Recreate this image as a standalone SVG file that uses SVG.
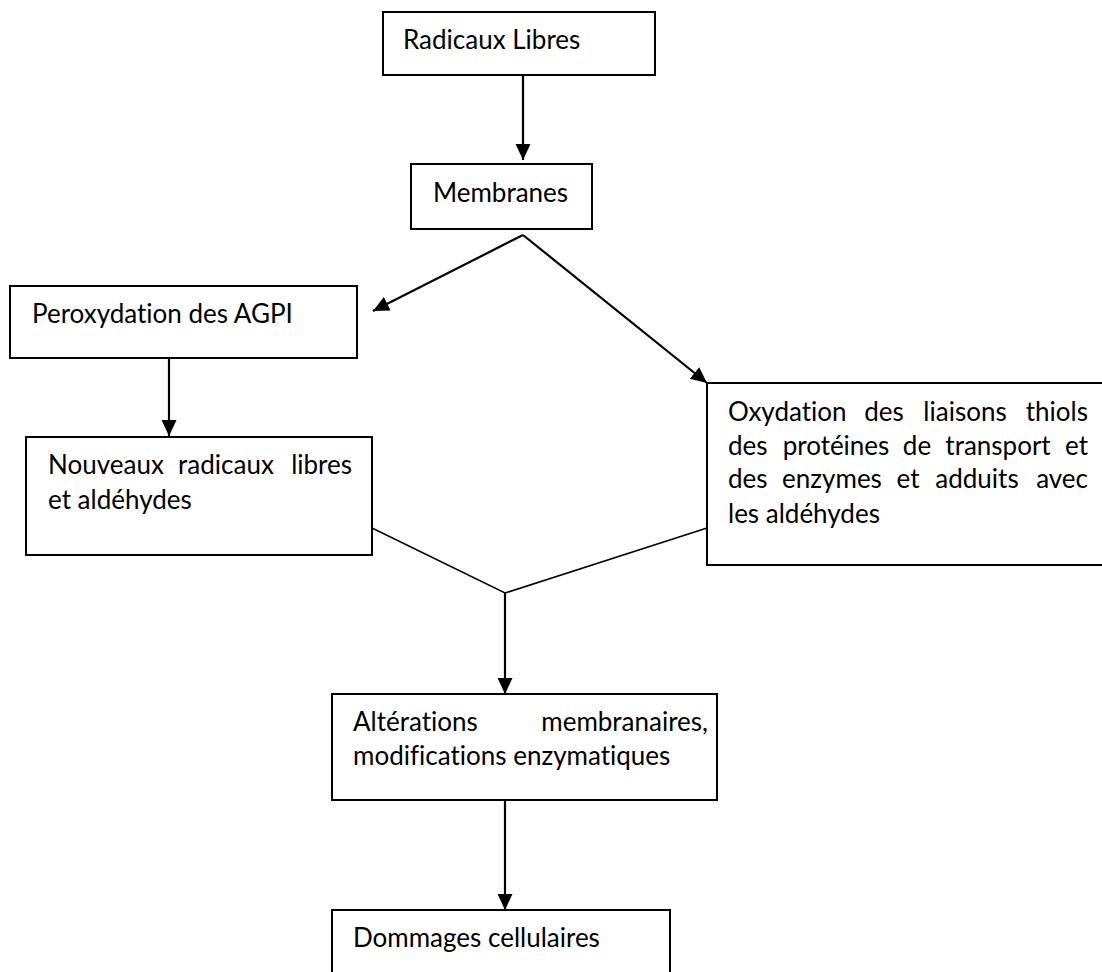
<svg xmlns="http://www.w3.org/2000/svg" width="1102" height="972" viewBox="0 0 1102 972">
  <style>
    .box { fill: #ffffff; stroke: #000000; stroke-width: 2; }
    .lbl { font-family: Lato, "Open Sans", "Liberation Sans", sans-serif; font-size: 26px; fill: #000000; font-variant-ligatures: none; font-feature-settings: "liga" 0; }
    .end { text-anchor: end; }
    .mid { text-anchor: middle; }
    .conn { stroke: #000000; stroke-width: 2.2; fill: none; }
    .thin { stroke: #000000; stroke-width: 1.6; fill: none; }
  </style>
  <defs>
    <marker id="arrow" markerUnits="userSpaceOnUse" markerWidth="18" markerHeight="16" refX="16" refY="7.5" orient="auto">
      <path d="M0,0 L16,7.5 L0,15 Z" fill="#000000"/>
    </marker>
  </defs>
  <rect width="1102" height="972" fill="#ffffff"/>

  <g id="connectors">
    <line class="conn" x1="523" y1="75" x2="523" y2="160" marker-end="url(#arrow)"/>
    <line class="conn" x1="523" y1="235" x2="373" y2="311" marker-end="url(#arrow)"/>
    <line class="conn" x1="523" y1="235" x2="707" y2="383" marker-end="url(#arrow)"/>
    <line class="conn" x1="169" y1="358" x2="169" y2="436" marker-end="url(#arrow)"/>
    <polyline class="thin" points="372,528 505,593 707,528"/>
    <line class="conn" x1="505" y1="593" x2="505" y2="694" marker-end="url(#arrow)"/>
    <line class="conn" x1="505" y1="800" x2="505" y2="910" marker-end="url(#arrow)"/>
  </g>

  <g id="radicaux-libres">
    <rect class="box" x="383" y="12" width="272" height="63"/>
    <text class="lbl" x="403" y="49">Radicaux Libres</text>
  </g>

  <g id="membranes">
    <rect class="box" x="411" y="164" width="181" height="65"/>
    <text class="lbl" x="433" y="202">Membranes</text>
  </g>

  <g id="peroxydation">
    <rect class="box" x="10" y="286" width="347" height="72"/>
    <text class="lbl" x="32" y="323">Peroxydation des AGPI</text>
  </g>

  <g id="nouveaux-radicaux">
    <rect class="box" x="26" y="437" width="346" height="118"/>
    <text class="lbl"><tspan x="48" y="474">Nouveaux</tspan><tspan class="mid" x="226" y="474">radicaux</tspan><tspan class="end" x="352" y="474">libres</tspan><tspan x="48" y="509">et aldéhydes</tspan></text>
  </g>

  <g id="oxydation">
    <rect class="box" x="707" y="383" width="405" height="182"/>
    <text class="lbl"><tspan x="728" y="421">Oxydation</tspan><tspan class="mid" x="884" y="421">des</tspan><tspan class="mid" x="965" y="421">liaisons</tspan><tspan class="end" x="1088" y="421">thiols</tspan><tspan x="728" y="455">des</tspan><tspan class="mid" x="836" y="455">protéines</tspan><tspan class="mid" x="917" y="455">de</tspan><tspan class="mid" x="998" y="455">transport</tspan><tspan class="end" x="1088" y="455">et</tspan><tspan x="728" y="488">des</tspan><tspan class="mid" x="832" y="488">enzymes</tspan><tspan class="mid" x="908" y="488">et</tspan><tspan class="mid" x="977" y="488">adduits</tspan><tspan class="end" x="1088" y="488">avec</tspan><tspan x="728" y="523">les aldéhydes</tspan></text>
  </g>

  <g id="alterations">
    <rect class="box" x="332" y="694" width="385" height="106"/>
    <text class="lbl"><tspan x="353" y="731">Altérations</tspan><tspan class="end" x="708" y="731">membranaires,</tspan><tspan x="353" y="765">modifications enzymatiques</tspan></text>
  </g>

  <g id="dommages">
    <rect class="box" x="332" y="910" width="338" height="72"/>
    <text class="lbl" x="353" y="947">Dommages cellulaires</text>
  </g>
</svg>
